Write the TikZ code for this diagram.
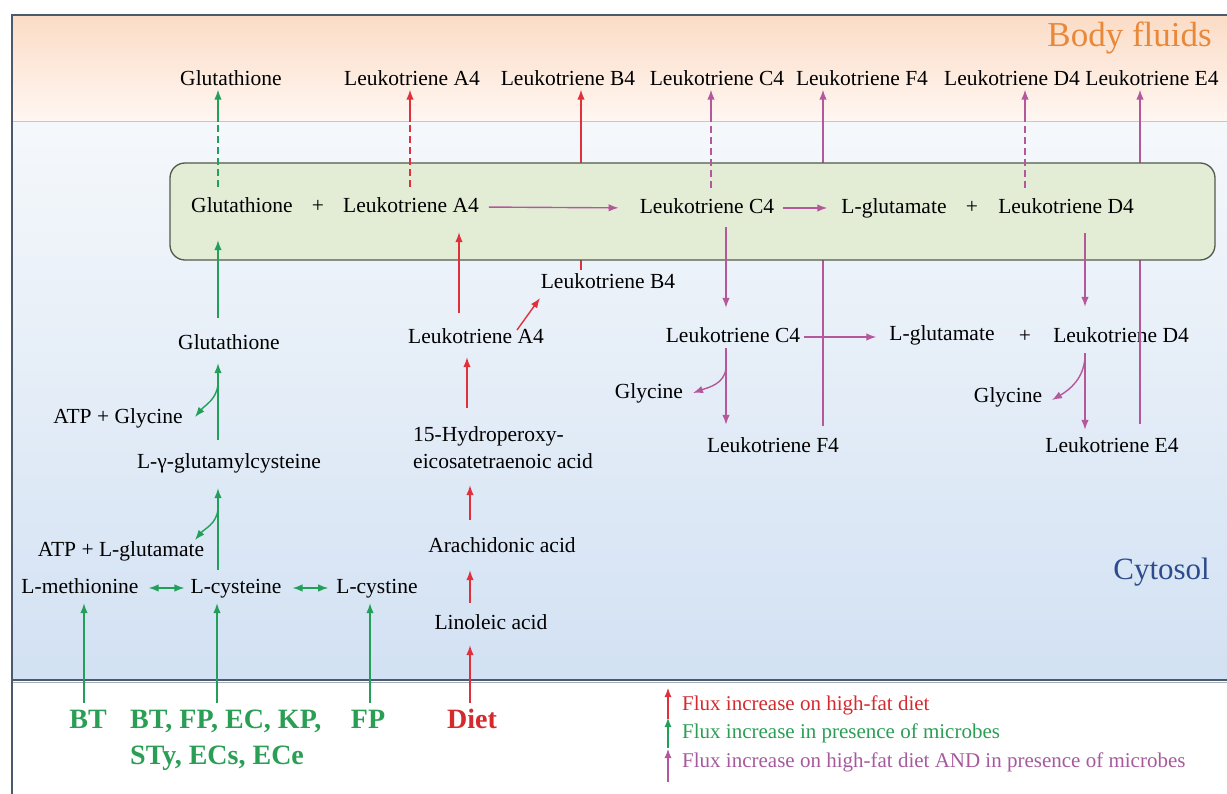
\documentclass[tikz,border=0pt]{standalone}
\usepackage{fontspec}
\setmainfont{Liberation Serif}
\usetikzlibrary{arrows.meta,calc}
\definecolor{cgreen}{HTML}{22A05A}
\definecolor{cgreenT}{HTML}{2A9E55}
\definecolor{cred}{HTML}{E0303C}
\definecolor{credT}{HTML}{D42A2E}
\definecolor{cmag}{HTML}{B4589B}
\definecolor{cmagT}{HTML}{A65A9C}
\definecolor{bfTop}{HTML}{FBDCC6}
\definecolor{bfBot}{HTML}{FFF7F2}
\definecolor{cyTop}{HTML}{F5F8FB}
\definecolor{cyBot}{HTML}{D2E1F3}
\definecolor{erFill}{HTML}{E3EDD6}
\definecolor{erLine}{HTML}{515B4C}
\definecolor{erText}{HTML}{62A44C}
\definecolor{bfText}{HTML}{E8883A}
\definecolor{cyText}{HTML}{2C4C8C}
\definecolor{frameC}{HTML}{4C5A6E}
\begin{document}
\begin{tikzpicture}[x=1pt,y=-1pt,
  lbl/.style={font=\fontsize{21.5}{26}\selectfont, inner sep=0pt, text height=15pt, text depth=4pt},
  big/.style={font=\bfseries\fontsize{28}{34}\selectfont, inner sep=0pt, text height=19pt, text depth=6pt},
  leg/.style={font=\fontsize{21}{25}\selectfont, inner sep=0pt, anchor=west},
  conn/.style={line width=1.4pt},
  gl/.style={conn, draw=cgreen},
  rl/.style={conn, draw=cred},
  ml/.style={conn, draw=cmag},
  fwd/.style={-{Latex[length=10pt,width=7.5pt]}},
  both/.style={{Latex[length=10pt,width=7.5pt]}-{Latex[length=10pt,width=7.5pt]}},
  dsh/.style={dash pattern=on 7pt off 4pt},
  legarrow/.style={line width=1.1pt, -{Latex[length=9pt,width=7pt]}},
  erbox/.style={draw=erLine, line width=1.3pt, fill=erFill, rounded corners=15pt, inner sep=0pt}
]
\useasboundingbox (0,0) rectangle (1227,794);
% backgrounds
\shade[top color=bfTop, bottom color=bfBot] (12,15) rectangle (1227,122);
\shade[top color=cyTop, bottom color=cyBot] (12,122) rectangle (1227,680);
\draw[color=black!22, line width=1pt] (12,122) -- (1227,122);
\draw[color=frameC!50, line width=1.5pt] (12,682.5) -- (1227,682.5);
\draw[color=frameC, line width=1.8pt] (12,680) -- (1227,680);
\draw[color=frameC, line width=1.5pt] (12,794) -- (12,15) -- (1227,15);

\coordinate (band) at (0,122);
\coordinate (xg) at (218,0);
\coordinate (xla) at (410,0);
\coordinate (xlb) at (581,0);
\coordinate (xlc) at (711,0);
\coordinate (xlf) at (823,0);
\coordinate (xld) at (1025,0);
\coordinate (xle) at (1140,0);
\coordinate (xc4) at (726,0);
\coordinate (xd4) at (1085,0);
\coordinate (xa4) at (459,0);
\coordinate (xhp) at (467,0);
\coordinate (xd) at (470,0);
\coordinate (xbt) at (84,0);
\coordinate (xbt2) at (217,0);
\coordinate (xfp) at (370,0);

% region titles
\node[font=\fontsize{35}{40}\selectfont, text=bfText, anchor=east, inner sep=0pt] (tbf) at (1212,38) {Body fluids};
\node[font=\fontsize{30}{34}\selectfont, text=erText, anchor=east, inner sep=0pt] (ter) at (1203,183) {ER};
\node[font=\fontsize{31}{36}\selectfont, text=cyText, anchor=east, inner sep=0pt] (tcy) at (1210,572) {Cytosol};

% top row
\node[lbl] (topG) at (231,80) {Glutathione};
\node[lbl] (topLA4) at (412,80) {Leukotriene A4};
\node[lbl] (topLB4) at (568,80) {Leukotriene B4};
\node[lbl] (topLC4) at (717,80) {Leukotriene C4};
\node[lbl] (topLF4) at (862,80) {Leukotriene F4};
\node[lbl] (topLD4) at (1012,80) {Leukotriene D4};
\node[lbl] (topLE4) at (1152,80) {Leukotriene E4};

% cytosol nodes
\node[lbl] (cytLB4) at (608,283) {Leukotriene B4};
\node[lbl] (cytG) at (229,344) {Glutathione};
\node[lbl] (cytLA4) at (476,338) {Leukotriene A4};
\node[lbl] (cytLC4) at (733,337) {Leukotriene C4};
\node[lbl] (cytLglu) at (942,335) {L-glutamate};
\node[lbl] (cytPlus) at (1025,337) {+};
\node[lbl] (cytLD4) at (1121,337) {Leukotriene D4};
\node[lbl] (gly1) at (649,393) {Glycine};
\node[lbl] (gly2) at (1008,397) {Glycine};
\node[lbl] (atpgly) at (118,418) {ATP + Glycine};
\node[lbl, anchor=west] (hpA) at (413,436) {15-Hydroperoxy-};
\node[lbl, anchor=west] (hpB) at (413,463) {eicosatetraenoic acid};
\node[lbl] (lgam) at (229,463) {L-γ-glutamylcysteine};
\node[lbl] (lf4) at (773,447) {Leukotriene F4};
\node[lbl] (le4) at (1112,447) {Leukotriene E4};
\node[lbl] (arach) at (502,547) {Arachidonic acid};
\node[lbl] (atpglu) at (121,551) {ATP + L-glutamate};
\node[lbl] (lmet) at (80,588) {L-methionine};
\node[lbl] (lcys) at (236,588) {L-cysteine};
\node[lbl] (lcyst) at (377,588) {L-cystine};
\node[lbl] (linol) at (491,624) {Linoleic acid};

% sources
\node[big, text=cgreenT] (bt) at (88,722) {BT};
\node[big, text=cgreenT, anchor=west] (bt2a) at (130,722) {BT, FP, EC, KP,};
\node[big, text=cgreenT, anchor=west] (bt2b) at (130,758) {STy, ECs, ECe};
\node[big, text=cgreenT] (fp) at (368,722) {FP};
\node[big, text=credT] (diet) at (472,722) {Diet};

% long lines hidden behind ER box
\draw[rl,fwd, shorten <=3.5pt] (cytLB4.north -| xlb) -- (topLB4.south -| xlb);
\draw[ml,fwd, shorten <=11.5pt] (lf4.north -| xlf) -- (topLF4.south -| xlf);
\draw[ml,fwd, shorten <=13.5pt] (le4.north -| xle) -- (topLE4.south -| xle);

% ER box
\node[erbox, minimum width=1045pt, minimum height=97pt] (er) at (692.5,211.5) {};
\node[lbl] (erG) at (242,207) {Glutathione};
\node[lbl] (erPlusA) at (318,207) {+};
\node[lbl] (erLA4) at (411,207) {Leukotriene A4};
\node[lbl] (erLC4) at (707,208) {Leukotriene C4};
\node[lbl] (erLglu) at (894,208) {L-glutamate};
\node[lbl] (erPlusB) at (972,208) {+};
\node[lbl] (erLD4) at (1066,208) {Leukotriene D4};

% ER to body fluids (dashed inside, solid above band)
\draw[gl,dsh, shorten <=10.5pt] (erG.north -| xg) -- (band -| xg);
\draw[gl,fwd] (band -| xg) -- (topG.south -| xg);
\draw[rl,dsh, shorten <=10.5pt] (erLA4.north -| xla) -- (band -| xla);
\draw[rl,fwd] (band -| xla) -- (topLA4.south -| xla);
\draw[ml,dsh, shorten <=10.5pt] (erLC4.north -| xlc) -- (band -| xlc);
\draw[ml,fwd] (band -| xlc) -- (topLC4.south -| xlc);
\draw[ml,dsh, shorten <=10.5pt] (erLD4.north -| xld) -- (band -| xld);
\draw[ml,fwd] (band -| xld) -- (topLD4.south -| xld);

% ER reactions
\draw[ml,fwd, shorten <=10pt, shorten >=21pt] (erLA4.east) -- (erLC4.west);
\draw[ml,fwd, shorten <=9pt, shorten >=14pt] (erLC4.east) -- (erLglu.west);

% green pathway
\draw[gl,fwd, shorten <=16.5pt, shorten >=23.5pt] (cytG.north -| xg) -- (erG.south -| xg);
\draw[gl,fwd, shorten <=13.5pt, shorten >=9.5pt] (lgam.north -| xg) -- (cytG.south -| xg);
\draw[gl,fwd, shorten <=8.5pt, shorten >=15.5pt] (lcys.north -| xg) -- (lgam.south -| xg);
\coordinate (cv1s) at (218,384);
\coordinate (cv1e) at (195,417);
\draw[gl,fwd] (cv1s) to[out=-95,in=50] (cv1e);
\coordinate (cv2s) at (218,509);
\coordinate (cv2e) at (195,540);
\draw[gl,fwd] (cv2s) to[out=-95,in=50] (cv2e);
\draw[gl,both, shorten <=10pt, shorten >=6pt] (lmet.east) -- (lcys.west);
\draw[gl,both, shorten <=11pt, shorten >=8pt] (lcys.east) -- (lcyst.west);
\draw[gl,fwd, shorten <=6.5pt, shorten >=5.5pt] (bt.north -| xbt) -- (lmet.south -| xbt);
\draw[gl,fwd, shorten <=6.5pt, shorten >=5.5pt] (bt2a.north -| xbt2) -- (lcys.south -| xbt2);
\draw[gl,fwd, shorten <=6.5pt, shorten >=5.5pt] (fp.north -| xfp) -- (lcyst.south -| xfp);

% red pathway
\draw[rl,fwd, shorten <=6.5pt, shorten >=11.5pt] (diet.north -| xd) -- (linol.south -| xd);
\draw[rl,fwd, shorten <=11.5pt, shorten >=13.5pt] (linol.north -| xd) -- (arach.south -| xd);
\draw[rl,fwd, shorten <=17.5pt, shorten >=12.5pt] (arach.north -| xd) -- (hpB.south -| xd);
\draw[rl,fwd, shorten <=18.5pt, shorten >=9.5pt] (hpA.north -| xhp) -- (cytLA4.south -| xhp);
\draw[rl,fwd, shorten <=15.5pt, shorten >=15.5pt] (cytLA4.north -| xa4) -- (erLA4.south -| xa4);
\coordinate (dgs) at (517,330);
\coordinate (dge) at (540,298);
\draw[rl,fwd] (dgs) -- (dge);

% magenta pathway
\draw[ml,fwd, shorten <=9.5pt, shorten >=19.5pt] (erLC4.south -| xc4) -- (cytLC4.north -| xc4);
\draw[ml,fwd, shorten <=15.5pt, shorten >=20.5pt] (erLD4.south -| xd4) -- (cytLD4.north -| xd4);
\draw[ml,fwd, shorten <=4pt, shorten >=13pt] (cytLC4.east) -- (cytLC4.east -| cytLglu.west);
\draw[ml,fwd, shorten <=1.5pt, shorten >=12.5pt] (cytLC4.south -| xc4) -- (lf4.north -| xc4);
\draw[ml,fwd, shorten <=6.5pt, shorten >=7.5pt] (cytLD4.south -| xd4) -- (le4.north -| xd4);
\coordinate (cv3s) at (726,368);
\coordinate (cv3e) at (693,393);
\draw[ml,fwd] (cv3s) to[out=-95,in=20] (cv3e);
\coordinate (cv4s) at (1085,358);
\coordinate (cv4e) at (1052,400);
\draw[ml,fwd] (cv4s) to[out=-95,in=30] (cv4e);

% legend
\coordinate (lg1a) at (668,719);
\coordinate (lg1b) at (668,688);
\coordinate (lg2a) at (668,748);
\coordinate (lg2b) at (668,718);
\coordinate (lg3a) at (668,782);
\coordinate (lg3b) at (668,749);
\draw[legarrow, draw=cred, fill=cred] (lg1a) -- (lg1b);
\draw[legarrow, draw=cgreen, fill=cgreen] (lg2a) -- (lg2b);
\draw[legarrow, draw=cmag, fill=cmag] (lg3a) -- (lg3b);
\node[leg, text=credT] (leg1) at (682,705) {Flux increase on high-fat diet};
\node[leg, text=cgreenT] (leg2) at (682,733) {Flux increase in presence of microbes};
\node[leg, text=cmagT] (leg3) at (682,762) {Flux increase on high-fat diet AND in presence of microbes};
\end{tikzpicture}
\end{document}
